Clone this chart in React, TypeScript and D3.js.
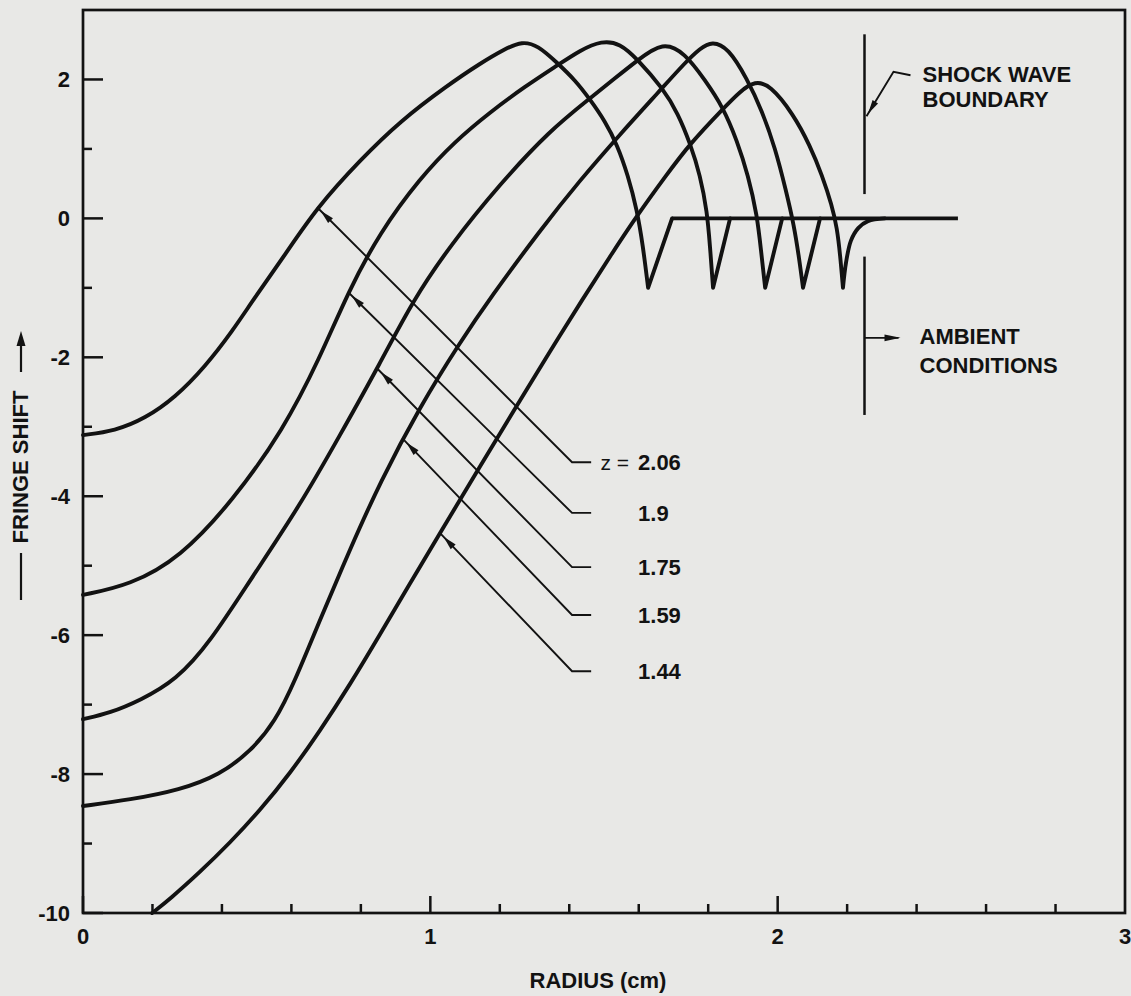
import React from 'react';
import * as d3 from 'd3';

type P = [number, number];

// ---------- data (radius cm, fringe shift) ----------
const xMajorTicks = [0, 1, 2, 3];
const yMajorTicks = [-10, -8, -6, -4, -2, 0, 2];

const zValues = ['2.06', '1.9', '1.75', '1.59', '1.44'];

// rising + falling part of each profile, down to the bottom of its dip
const curveA: P[] = [
  [0, -3.12], [0.092, -3.06], [0.179, -2.88], [0.265, -2.58], [0.351, -2.14], [0.432, -1.61],
  [0.489, -1.18], [0.582, -0.52], [0.674, 0.16], [0.798, 0.84], [0.913, 1.4], [1.048, 1.91],
  [1.143, 2.23], [1.215, 2.44], [1.264, 2.55], [1.31, 2.49], [1.365, 2.24], [1.417, 1.99],
  [1.46, 1.71], [1.503, 1.4], [1.538, 1.06], [1.569, 0.62], [1.595, 0.12], [1.612, -0.39],
  [1.627, -1.0],
];
const curveB: P[] = [
  [0, -5.42], [0.135, -5.28], [0.279, -4.89], [0.432, -4.06], [0.576, -3.05], [0.682, -2.01],
  [0.763, -1.06], [0.855, -0.2], [0.97, 0.58], [1.071, 1.11], [1.172, 1.53], [1.273, 1.9],
  [1.365, 2.2], [1.431, 2.42], [1.494, 2.56], [1.546, 2.52], [1.595, 2.3], [1.67, 1.87],
  [1.713, 1.51], [1.748, 1.08], [1.777, 0.62], [1.797, 0.09], [1.805, -0.39], [1.814, -1.0],
];
const curveC: P[] = [
  [0, -7.21], [0.078, -7.12], [0.164, -6.94], [0.268, -6.65], [0.366, -6.1], [0.481, -5.21],
  [0.625, -4.13], [0.74, -3.12], [0.855, -2.09], [0.95, -1.18], [1.057, -0.39], [1.201, 0.5],
  [1.345, 1.27], [1.46, 1.73], [1.532, 2.02], [1.595, 2.27], [1.67, 2.55], [1.733, 2.38],
  [1.791, 1.99], [1.843, 1.6], [1.883, 1.12], [1.915, 0.62], [1.941, 0.04], [1.952, -0.46],
  [1.964, -1.0],
];
const curveD: P[] = [
  [0, -8.46], [0.135, -8.37], [0.279, -8.23], [0.394, -8.01], [0.481, -7.68], [0.553, -7.25],
  [0.611, -6.65], [0.682, -5.78], [0.769, -4.76], [0.855, -3.8], [0.97, -2.71], [1.086, -1.78],
  [1.172, -1.15], [1.316, -0.17], [1.431, 0.55], [1.546, 1.21], [1.661, 1.84], [1.733, 2.24],
  [1.777, 2.45], [1.811, 2.55], [1.857, 2.46], [1.912, 2.01], [1.955, 1.55], [1.993, 1.01],
  [2.024, 0.4], [2.047, -0.1], [2.062, -0.58], [2.073, -1.0],
];
const curveE: P[] = [
  [0.199, -10.0], [0.25, -9.8], [0.337, -9.41], [0.423, -8.99], [0.51, -8.52], [0.596, -7.99],
  [0.682, -7.38], [0.769, -6.71], [0.855, -5.99], [0.942, -5.25], [1.028, -4.53], [1.143, -3.57],
  [1.258, -2.62], [1.345, -1.91], [1.44, -1.15], [1.517, -0.55], [1.595, 0.04], [1.676, 0.6],
  [1.748, 1.08], [1.843, 1.58], [1.892, 1.83], [1.935, 1.98], [1.978, 1.92], [2.044, 1.51],
  [2.093, 1.05], [2.128, 0.62], [2.156, 0.19], [2.171, -0.14], [2.18, -0.53], [2.188, -1.0],
];

// recovery from the dip back to zero
const returnA: P[] = [[1.627, -1.0], [1.696, 0]];
const returnB: P[] = [[1.814, -1.0], [1.863, 0]];
const returnC: P[] = [[1.964, -1.0], [2.013, 0]];
const returnD: P[] = [[2.073, -1.0], [2.122, 0]];
const returnE: P[] = [[2.188, -1.0], [2.197, -0.63], [2.211, -0.32], [2.232, -0.14], [2.26, -0.04], [2.309, 0]];

const ambientLine: P[] = [[1.696, 0], [2.519, 0]];

// leader arrows: where each arrow touches its curve (radius) and label level (fringe shift)
const tipRadius = [0.674, 0.763, 0.847, 0.921, 1.028];
const labelLevel = [-3.51, -4.24, -5.02, -5.71, -6.52];

const shockRadius = 2.25;

// ---------- component ----------
const INK = '#121212';
const FONT = '"Liberation Sans", Arial, Helvetica, sans-serif';
const FS = 22;

function valueAt(pts: P[], r: number): number {
  for (let i = 0; i < pts.length - 1; i++) {
    const [r0, v0] = pts[i];
    const [r1, v1] = pts[i + 1];
    if (r >= r0 && r <= r1) return v0 + ((r - r0) / (r1 - r0)) * (v1 - v0);
  }
  return pts[pts.length - 1][1];
}

function arrowHead(tx: number, ty: number, fx: number, fy: number, near: number, far: number, half: number) {
  const dx = tx - fx, dy = ty - fy;
  const L = Math.hypot(dx, dy);
  const ux = dx / L, uy = dy / L;
  const ax = tx - ux * near, ay = ty - uy * near;
  const bx = tx - ux * far, by = ty - uy * far;
  const px = -uy, py = ux;
  return `M${ax},${ay}L${bx + px * half},${by + py * half}L${bx - px * half},${by - py * half}Z`;
}

export default function App() {
  const x = d3.scaleLinear().domain([0, 3]).range([83, 1125]);
  const y = d3.scaleLinear().domain([-10, 3]).range([913, 10]);

  const smooth = d3.line<P>().x(d => x(d[0])).y(d => y(d[1])).curve(d3.curveBasis);
  const round = d3.line<P>().x(d => x(d[0])).y(d => y(d[1])).curve(d3.curveCatmullRom.alpha(0.5));
  const straight = d3.line<P>().x(d => x(d[0])).y(d => y(d[1]));

  const curves: { main: P[]; ret: P[]; rounded: boolean }[] = [
    { main: curveA, ret: returnA, rounded: false },
    { main: curveB, ret: returnB, rounded: false },
    { main: curveC, ret: returnC, rounded: false },
    { main: curveD, ret: returnD, rounded: false },
    { main: curveE, ret: returnE, rounded: true },
  ];

  const x0 = x(0), yb = y(-10), yt = y(3), xr = x(3);

  const yTicks = d3.range(-10, 3, 1);
  const xTicks = d3.range(0, 15, 1).map(i => i * 0.2);

  const elbowX = x(1.408);
  const endX = x(1.463);
  const numX = x(1.598);

  const sx = x(shockRadius);

  return (
    <svg
      width={1131}
      height={996}
      style={{ position: 'absolute', left: 0, top: 0, background: '#e8e8e6' }}
      fontFamily={FONT}
    >
      <rect x={0} y={0} width={1131} height={996} fill="#e8e8e6" />

      {/* frame */}
      <rect x={x0} y={yt} width={xr - x0} height={yb - yt} fill="none" stroke={INK} strokeWidth={2.7} />

      {/* y ticks */}
      {yTicks.map(v => (
        <line key={'yt' + v} x1={x0} x2={x0 + (v % 2 === 0 ? 20 : 9)} y1={y(v)} y2={y(v)} stroke={INK} strokeWidth={2.5} />
      ))}
      {yMajorTicks.map(v => (
        <text key={'yl' + v} x={x0 - 13} y={y(v)} dy="0.36em" textAnchor="end" fontSize={FS} fontWeight="bold" fill={INK}>
          {v}
        </text>
      ))}

      {/* x ticks */}
      {xTicks.map((r, i) => {
        const major = i % 5 === 0;
        return <line key={'xt' + i} x1={x(r)} x2={x(r)} y1={yb} y2={yb - (major ? 17 : 9)} stroke={INK} strokeWidth={2.5} />;
      })}
      {xMajorTicks.map(r => (
        <text key={'xl' + r} x={x(r)} y={yb + 31} textAnchor="middle" fontSize={FS} fontWeight="bold" fill={INK}>
          {r}
        </text>
      ))}

      {/* axis titles */}
      <text x={598} y={988} textAnchor="middle" fontSize={FS} fontWeight="bold" fill={INK}>RADIUS (cm)</text>
      <text transform="translate(28,467) rotate(-90)" textAnchor="middle" fontSize={FS} fontWeight="bold" fill={INK}>
        FRINGE SHIFT
      </text>
      <line x1={21} x2={21} y1={553} y2={600} stroke={INK} strokeWidth={2.2} />
      <line x1={21} x2={21} y1={372} y2={342} stroke={INK} strokeWidth={2.2} />
      <path d={arrowHead(21, 331, 21, 372, 0, 15, 4.5)} fill={INK} />

      {/* profiles */}
      {curves.map((c, i) => {
        const a = smooth(c.main) as string;
        const b = (c.rounded ? round(c.ret) : straight(c.ret)) as string;
        return (
          <path key={'c' + i} d={a + b.replace(/^M/, 'L')} fill="none" stroke={INK} strokeWidth={3.9}
            strokeLinejoin="round" strokeLinecap="round" />
        );
      })}
      <path d={straight(ambientLine) as string} fill="none" stroke={INK} strokeWidth={3.9} strokeLinecap="butt" />

      {/* z leaders */}
      {zValues.map((z, i) => {
        const curve = curves[i].main;
        const tx = x(tipRadius[i]);
        const ty = y(valueAt(curve, tipRadius[i]));
        const ly = y(labelLevel[i]);
        return (
          <g key={'z' + i}>
            <polyline points={`${tx},${ty} ${elbowX},${ly} ${endX},${ly}`} fill="none" stroke={INK} strokeWidth={1.9} />
            <path d={arrowHead(tx, ty, elbowX, ly, 5, 19, 3.4)} fill={INK} />
            {i === 0 && (
              <text x={numX - 9} y={ly} dy="0.36em" textAnchor="end" fontSize={21} fill={INK}>z =</text>
            )}
            <text x={numX} y={ly} dy="0.36em" fontSize={FS} fontWeight="bold" fill={INK}>{z}</text>
          </g>
        );
      })}

      {/* shock wave boundary */}
      <line x1={sx} x2={sx} y1={y(2.65)} y2={y(0.35)} stroke={INK} strokeWidth={2.5} />
      <line x1={sx} x2={sx} y1={y(-0.55)} y2={y(-2.83)} stroke={INK} strokeWidth={2.5} />
      <polyline points={`${sx + 2},${y(1.47)} ${sx + 29},${y(2.11)} ${sx + 46},${y(2.06)}`} fill="none" stroke={INK} strokeWidth={1.9} />
      <path d={arrowHead(sx + 2, y(1.47), sx + 29, y(2.11), 3, 17, 3.2)} fill={INK} />
      <text x={sx + 58} y={y(1.97)} fontSize={FS} fontWeight="bold" fill={INK}>SHOCK WAVE</text>
      <text x={sx + 58} y={y(1.6)} fontSize={FS} fontWeight="bold" fill={INK}>BOUNDARY</text>

      <line x1={sx} x2={sx + 34} y1={y(-1.72)} y2={y(-1.72)} stroke={INK} strokeWidth={1.9} />
      <path d={arrowHead(sx + 36, y(-1.72), sx, y(-1.72), 0, 16, 3.4)} fill={INK} />
      <text x={sx + 55} y={y(-1.81)} fontSize={FS} fontWeight="bold" fill={INK}>AMBIENT</text>
      <text x={sx + 55} y={y(-2.22)} fontSize={FS} fontWeight="bold" fill={INK}>CONDITIONS</text>
    </svg>
  );
}
